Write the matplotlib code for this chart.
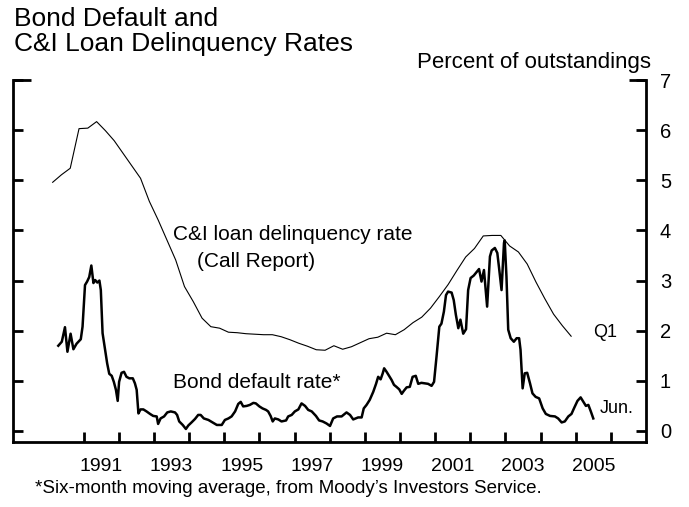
import matplotlib
matplotlib.use("Agg")
import matplotlib.pyplot as plt

plt.rcParams['font.family'] = ['Liberation Sans', 'DejaVu Sans']

# C&I loan delinquency rate, quarterly, 1990:Q2 - 2005:Q1 (percent)
ci_dates = [1990.12 + 0.25 * i for i in range(60)]
ci_values = [4.96, 5.11, 5.24, 6.03, 6.04, 6.17, 5.99, 5.79,
             5.54, 5.29, 5.04, 4.58, 4.21, 3.81, 3.41, 2.88,
             2.58, 2.25, 2.08, 2.05, 1.97, 1.96, 1.94, 1.93,
             1.92, 1.92, 1.88, 1.82, 1.75, 1.69, 1.62, 1.61,
             1.70, 1.63, 1.68, 1.76, 1.84, 1.87, 1.95, 1.92,
             2.02, 2.16, 2.27, 2.45, 2.68, 2.92, 3.20, 3.47,
             3.64, 3.89, 3.90, 3.90, 3.69, 3.57, 3.33, 2.97,
             2.64, 2.33, 2.10, 1.89]

# bond default rate (six-month moving average)
bond_dates = [1990.28, 1990.38, 1990.47, 1990.54, 1990.63, 1990.71, 1990.80, 1990.92,
              1990.97, 1991.04, 1991.10, 1991.16, 1991.22, 1991.28, 1991.33, 1991.39,
              1991.45, 1991.49, 1991.54, 1991.61, 1991.67, 1991.73, 1991.80, 1991.86,
              1991.92, 1991.97, 1992.01, 1992.08, 1992.15, 1992.22, 1992.30, 1992.40,
              1992.46, 1992.51, 1992.56, 1992.62, 1992.70, 1992.79, 1992.89, 1992.98,
              1993.08, 1993.12, 1993.19, 1993.29, 1993.38, 1993.48, 1993.60, 1993.66,
              1993.72, 1993.82, 1993.91, 1993.98, 1994.07, 1994.17, 1994.26, 1994.33,
              1994.42, 1994.55, 1994.67, 1994.79, 1994.93, 1995.02, 1995.12, 1995.21,
              1995.31, 1995.40, 1995.47, 1995.54, 1995.64, 1995.73, 1995.83, 1995.90,
              1996.00, 1996.09, 1996.19, 1996.25, 1996.32, 1996.38, 1996.44, 1996.54,
              1996.63, 1996.76, 1996.82, 1996.92, 1997.01, 1997.11, 1997.20, 1997.30,
              1997.39, 1997.49, 1997.61, 1997.70, 1997.80, 1997.91, 1998.01, 1998.10,
              1998.21, 1998.34, 1998.48, 1998.58, 1998.67, 1998.81, 1998.91, 1998.97,
              1999.05, 1999.14, 1999.24, 1999.32, 1999.38, 1999.45, 1999.51, 1999.55,
              1999.62, 1999.69, 1999.76, 1999.83, 1999.90, 1999.98, 2000.05, 2000.11,
              2000.19, 2000.28, 2000.36, 2000.45, 2000.52, 2000.61, 2000.71, 2000.80,
              2000.90, 2000.97, 2001.04, 2001.12, 2001.18, 2001.25, 2001.31, 2001.37,
              2001.47, 2001.53, 2001.59, 2001.66, 2001.72, 2001.80, 2001.88, 2001.94,
              2002.01, 2002.10, 2002.18, 2002.25, 2002.32, 2002.39, 2002.48, 2002.56,
              2002.61, 2002.70, 2002.77, 2002.82, 2002.89, 2002.96, 2002.98, 2003.03,
              2003.08, 2003.15, 2003.24, 2003.32, 2003.39, 2003.43, 2003.49, 2003.55,
              2003.62, 2003.70, 2003.77, 2003.86, 2003.96, 2004.06, 2004.15, 2004.27,
              2004.41, 2004.50, 2004.60, 2004.69, 2004.79, 2004.88, 2004.95, 2005.05,
              2005.14, 2005.21, 2005.29, 2005.36, 2005.43, 2005.50]
bond_values = [1.70, 1.78, 2.07, 1.58, 1.94, 1.63, 1.74, 1.83,
               2.08, 2.91, 2.98, 3.07, 3.30, 2.95, 3.01, 2.96,
               3.00, 2.81, 1.95, 1.62, 1.35, 1.14, 1.10, 0.98,
               0.82, 0.60, 0.98, 1.16, 1.18, 1.08, 1.05, 1.05,
               0.95, 0.82, 0.35, 0.43, 0.43, 0.39, 0.34, 0.30,
               0.29, 0.14, 0.25, 0.29, 0.37, 0.39, 0.37, 0.32,
               0.19, 0.12, 0.04, 0.11, 0.17, 0.24, 0.32, 0.32,
               0.25, 0.22, 0.17, 0.12, 0.12, 0.22, 0.25, 0.29,
               0.39, 0.54, 0.58, 0.49, 0.50, 0.52, 0.56, 0.55,
               0.49, 0.45, 0.42, 0.39, 0.30, 0.19, 0.25, 0.23,
               0.19, 0.21, 0.29, 0.32, 0.39, 0.43, 0.55, 0.50,
               0.42, 0.39, 0.30, 0.21, 0.19, 0.15, 0.10, 0.25,
               0.29, 0.29, 0.37, 0.32, 0.23, 0.27, 0.27, 0.45,
               0.52, 0.62, 0.78, 0.94, 1.08, 1.03, 1.15, 1.25,
               1.18, 1.10, 1.02, 0.92, 0.88, 0.83, 0.74, 0.80,
               0.87, 0.88, 1.08, 1.10, 0.94, 0.96, 0.95, 0.94,
               0.90, 0.98, 1.48, 2.08, 2.14, 2.38, 2.71, 2.78,
               2.76, 2.61, 2.32, 2.05, 2.22, 1.94, 2.03, 2.81,
               3.05, 3.10, 3.17, 3.23, 2.98, 3.21, 2.48, 3.48,
               3.60, 3.65, 3.55, 3.25, 2.81, 3.75, 3.80, 3.08,
               2.02, 1.85, 1.78, 1.85, 1.85, 1.62, 0.85, 1.15,
               1.16, 0.95, 0.75, 0.68, 0.65, 0.45, 0.34, 0.30,
               0.29, 0.25, 0.17, 0.19, 0.29, 0.34, 0.45, 0.60,
               0.67, 0.59, 0.50, 0.52, 0.39, 0.25]

label_years = [1991, 1993, 1995, 1997, 1999, 2001, 2003, 2005]
tick_years = list(range(1991, 2007))
y_ticks = [0, 1, 2, 3, 4, 5, 6, 7]

fig = plt.figure(figsize=(6.89, 5.07), dpi=100)
ax = fig.add_axes([0.0193, 0.1288, 0.9183, 0.7134])

ax.plot(ci_dates, ci_values, color='black', linewidth=0.8)
ax.plot(bond_dates, bond_values, color='black', linewidth=1.8)

ax.set_xlim(1989, 2007)
ax.set_ylim(-0.214, 7)

# spines: left, right, bottom only
ax.spines['top'].set_visible(False)
for s in ['left', 'right', 'bottom']:
    ax.spines[s].set_linewidth(2)

ax.set_xticks(tick_years)
ax.set_xticklabels([])
ax.set_xticks([y + 0.5 for y in label_years], minor=True)
ax.set_xticklabels([str(y) for y in label_years], minor=True, fontsize=14)
ax.tick_params(axis='x', which='major', direction='in', length=7.5, width=2)
ax.tick_params(axis='x', which='minor', length=0, pad=12)

ax.set_yticks(y_ticks)
ax.set_yticklabels([str(v) for v in y_ticks], fontsize=14.5)
ax.tick_params(axis='y', direction='in', length=7, width=2, left=True, right=True,
               labelleft=False, labelright=True, pad=10)

# longer top ticks
ax.plot([0, 0.028], [1, 1], transform=ax.transAxes, color='black', linewidth=2,
        clip_on=False, solid_capstyle='butt')
ax.plot([0.973, 1], [1, 1], transform=ax.transAxes, color='black', linewidth=2,
        clip_on=False, solid_capstyle='butt')

# annotations
ax.text(1993.53, 3.80, 'C&I loan delinquency rate', fontsize=15)
ax.text(1994.22, 3.27, '(Call Report)', fontsize=15)
ax.text(1993.53, 0.85, 'Bond default rate*', fontsize=15)
ax.text(2005.50, 1.87, 'Q1', fontsize=13)
ax.text(2005.67, 0.35, 'Jun.', fontsize=13)

# titles and notes
fig.text(14 / 689, 1 - 26 / 507, 'Bond Default and', fontsize=19, va='baseline')
fig.text(14 / 689, 1 - 51 / 507, 'C&I Loan Delinquency Rates', fontsize=19, va='baseline')
fig.text(651 / 689, 1 - 68 / 507, 'Percent of outstandings', fontsize=16,
         va='baseline', ha='right')
fig.text(35 / 689, 1 - 493 / 507,
         "*Six-month moving average, from Moody\u2019s Investors Service.",
         fontsize=13.5, va='baseline')

fig.savefig('out.png', dpi=100)
